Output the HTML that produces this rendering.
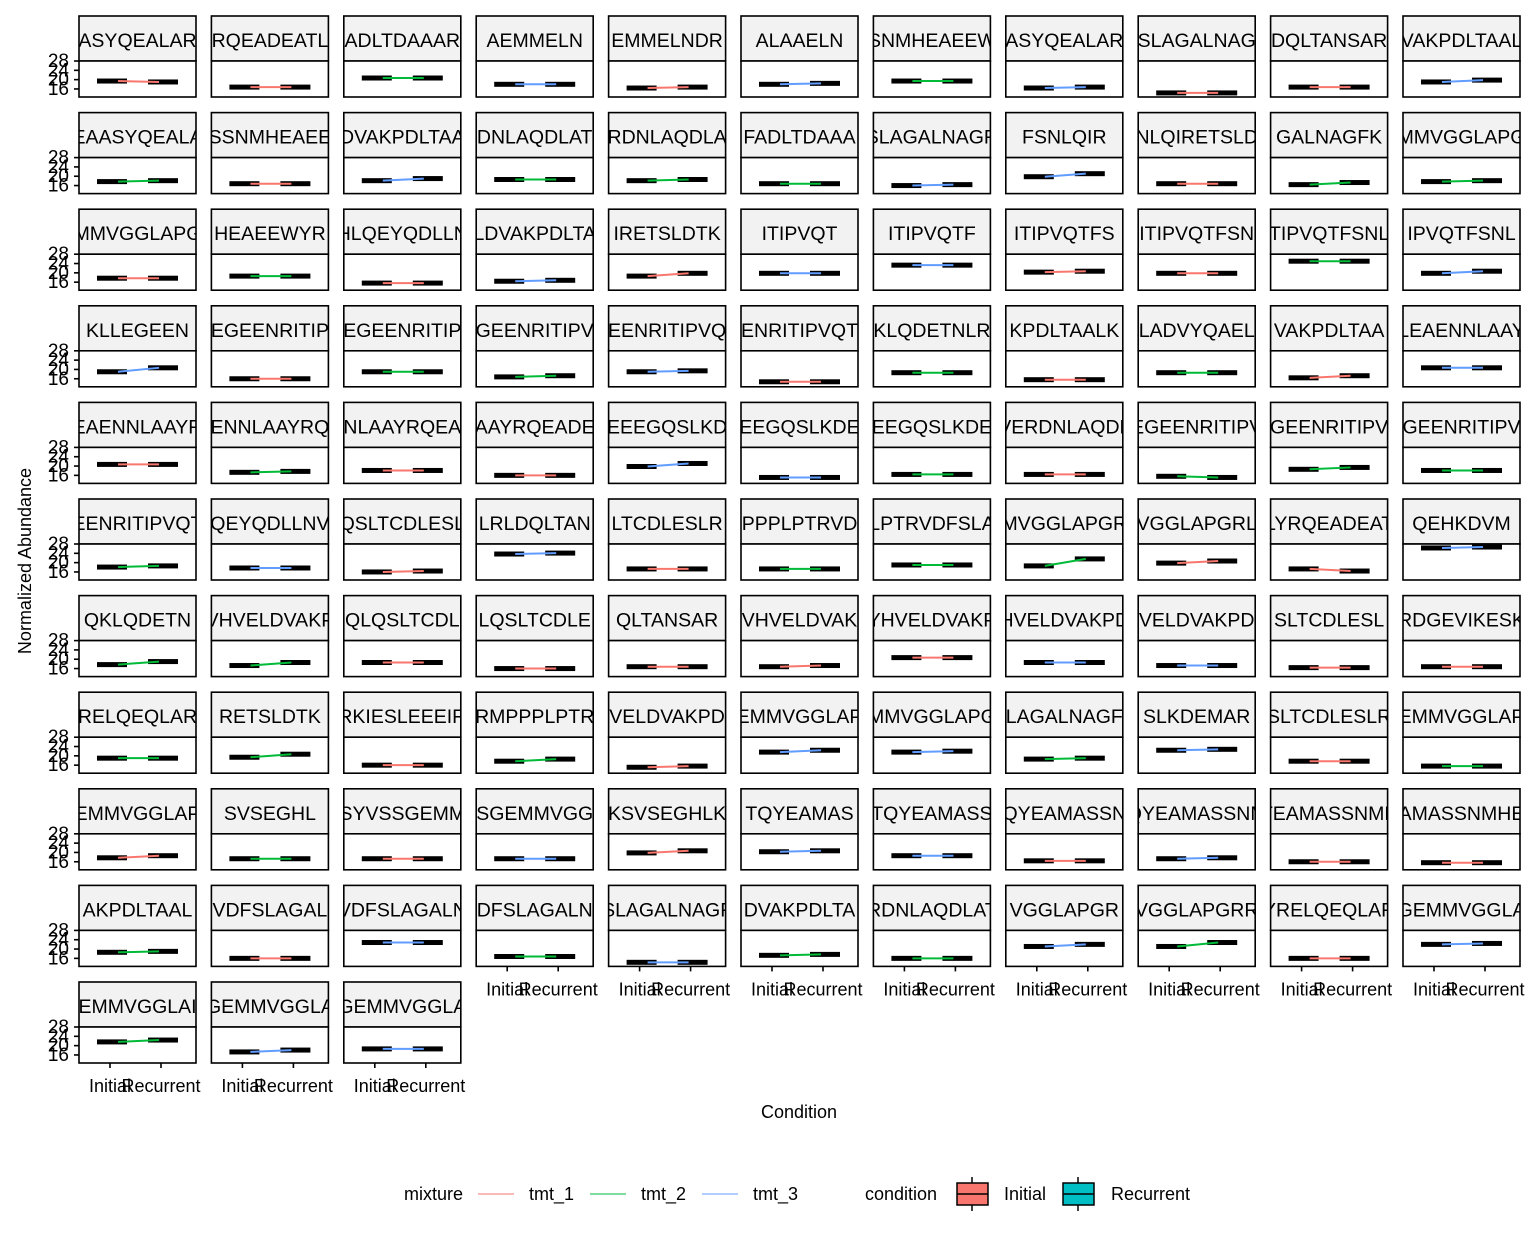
<!DOCTYPE html>
<html><head><meta charset="utf-8"><style>
body{margin:0;background:#fff;}
svg{display:block;font-family:"Liberation Sans",Arial,sans-serif;}
</style></head><body>
<svg id="chart" width="1536" height="1248" viewBox="0 0 1536 1248" xmlns="http://www.w3.org/2000/svg">
<g id="panels"></g>
<text x="31" y="561" font-size="18" text-anchor="middle" transform="rotate(-90 31 561)">Normalized Abundance</text>
<text x="799" y="1118" font-size="18" text-anchor="middle">Condition</text>
<g font-size="18">
<text x="404" y="1200">mixture</text>
<line x1="478" y1="1194" x2="514" y2="1194" stroke="#F8766D" stroke-width="1"/>
<text x="529" y="1200">tmt_1</text>
<line x1="590" y1="1194" x2="626" y2="1194" stroke="#00BA38" stroke-width="1"/>
<text x="641" y="1200">tmt_2</text>
<line x1="702" y1="1194" x2="738" y2="1194" stroke="#619CFF" stroke-width="1"/>
<text x="753" y="1200">tmt_3</text>
<text x="865" y="1200">condition</text>
<line x1="972" y1="1177" x2="972" y2="1211" stroke="#000" stroke-width="1.5"/>
<rect x="957" y="1183" width="31" height="22" fill="#F8766D" stroke="#000" stroke-width="1.5"/>
<line x1="957" y1="1194" x2="988" y2="1194" stroke="#000" stroke-width="1.5"/>
<text x="1004" y="1200">Initial</text>
<line x1="1078" y1="1177" x2="1078" y2="1211" stroke="#000" stroke-width="1.5"/>
<rect x="1063" y="1183" width="31" height="22" fill="#00BFC4" stroke="#000" stroke-width="1.5"/>
<line x1="1063" y1="1194" x2="1094" y2="1194" stroke="#000" stroke-width="1.5"/>
<text x="1111" y="1200">Recurrent</text>
</g>
</svg>
<script>
const peptides = ["ASYQEALAR","RQEADEATL","ADLTDAAAR","AEMMELN","EMMELNDR","ALAAELN","SNMHEAEEW","ASYQEALAR","SLAGALNAG","DQLTANSAR","VAKPDLTAAL",
"EAASYQEALA","SSNMHEAEE","DVAKPDLTAA","DNLAQDLAT","RDNLAQDLA","FADLTDAAA","SLAGALNAGR","FSNLQIR","NLQIRETSLD","GALNAGFK","MMVGGLAPG",
"MMVGGLAPG","HEAEEWYR","HLQEYQDLLN","LDVAKPDLTA","IRETSLDTK","ITIPVQT","ITIPVQTF","ITIPVQTFS","ITIPVQTFSN","TIPVQTFSNL","IPVQTFSNL",
"KLLEGEEN","EGEENRITIP","EGEENRITIP","GEENRITIPV","EENRITIPVQ","ENRITIPVQT","KLQDETNLR","KPDLTAALK","LADVYQAEL","VAKPDLTAA","LEAENNLAAY",
"EAENNLAAYR","ENNLAAYRQ","NLAAYRQEA","AAYRQEADE","EEEGQSLKD","EEGQSLKDE","EEGQSLKDE","VERDNLAQDL","EGEENRITIPV","GEENRITIPV","GEENRITIPV",
"EENRITIPVQT","QEYQDLLNV","QSLTCDLESL","LRLDQLTAN","LTCDLESLR","PPPLPTRVD","LPTRVDFSLA","MVGGLAPGR","VGGLAPGRL","LYRQEADEAT","QEHKDVM",
"QKLQDETN","VHVELDVAKP","QLQSLTCDL","LQSLTCDLE","QLTANSAR","VHVELDVAK","YHVELDVAKP","HVELDVAKPD","VELDVAKPD","SLTCDLESL","RDGEVIKESK",
"RELQEQLAR","RETSLDTK","RKIESLEEEIR","RMPPPLPTR","VELDVAKPD","EMMVGGLAP","MMVGGLAPG","LAGALNAGF","SLKDEMAR","SLTCDLESLR","EMMVGGLAP",
"EMMVGGLAP","SVSEGHL","SYVSSGEMM","SGEMMVGG","KSVSEGHLK","TQYEAMAS","TQYEAMASS","QYEAMASSN","QYEAMASSNM","TEAMASSNME","AMASSNMHE",
"AKPDLTAAL","VDFSLAGAL","VDFSLAGALN","DFSLAGALN","SLAGALNAGF","DVAKPDLTA","RDNLAQDLAT","VGGLAPGR","VGGLAPGRR","YRELQEQLAR","GEMMVGGLA",
"EMMVGGLAI","GEMMVGGLA","GEMMVGGLA"];
const initialValues = [19.4,16.8,20.7,18,16.4,18,19.4,16.4,14.3,16.8,19,
17.7,16.8,18.1,18.6,18.1,16.8,16,19.8,16.8,16.4,17.7,
17.7,18.6,15.6,16.4,18.6,19.8,23.3,20.3,19.8,25,19.8,
19,16,19,16.8,19,14.7,18.6,15.6,18.6,16.4,20.7,
20.7,17.3,18.1,16,19.8,15.1,16.4,16.4,15.6,18.6,18.1,
18.1,17.7,16,23.7,17.3,17.3,19,18.6,19.8,17.3,26.3,
17.7,17.3,18.6,16,16.8,16.8,20.7,18.6,17.3,16.4,16.8,
19,19.4,16,17.7,15.1,21.6,21.6,18.6,22.4,17.7,15.6,
17.7,17.3,17.3,17.3,19.8,20.3,18.6,16.4,17.3,16,15.6,
18.6,16,22.8,16.8,14.3,17.3,16,21.1,21.1,16,22,
21.6,17.3,18.6];
const recurrentValues = [19.0,16.8,20.7,18,16.8,18.4,19.4,16.8,14.3,16.8,19.8,
18.1,16.8,19,18.6,18.6,16.8,16.4,21.1,16.8,17.3,18.1,
17.7,18.6,15.6,16.8,19.8,19.8,23.3,20.7,19.8,25,20.7,
20.7,16,19,17.3,19.4,14.7,18.6,15.6,18.6,17.3,20.7,
20.7,17.7,18.1,16,21.1,15.1,16.4,16.4,15.1,19.4,18.1,
18.6,17.7,16.4,24.1,17.3,17.3,19,21.6,20.7,16.4,26.7,
19,18.6,18.6,16,16.8,17.3,20.7,18.6,17.3,16.4,16.8,
19,20.7,16,18.6,15.6,22.4,22,19,22.8,17.7,15.6,
18.6,17.3,17.3,17.3,20.7,20.7,18.6,16.4,17.7,16,15.6,
19,16,22.8,16.8,14.3,17.7,16,22,22.8,16,22.4,
22.4,18.1,18.6];
const mixtureIndex = [0,0,1,2,0,2,1,2,0,0,2,
1,0,2,1,1,1,2,2,0,1,1,
0,1,0,2,0,2,2,0,0,1,2,
2,0,1,1,2,0,1,0,1,0,2,
0,1,0,0,2,2,1,0,1,1,1,
1,2,0,2,0,1,1,1,0,0,2,
1,1,0,0,0,0,0,2,2,0,0,
1,1,0,1,0,2,2,1,2,0,1,
0,1,0,2,0,2,2,0,2,0,0,
1,0,2,1,2,1,1,2,1,0,2,
1,2,2];
const yTicks = [16,20,24,28];
const xCats = ["Initial","Recurrent"];
const colors = ["#F8766D","#00BA38","#619CFF"];

const NS="http://www.w3.org/2000/svg";
const g=document.getElementById('panels');
const colX0=79, colStep=132.4, rowY0=16, rowStep=96.6, PW=117, SH=45, PH=36;
function yScale(v,top){return top+(28-v)*2.33;}
function xScale(i,left){return left+(i===0?31:82);}
function mk(tag,attrs,parent){const e=document.createElementNS(NS,tag);for(const k in attrs)e.setAttribute(k,attrs[k]);parent.appendChild(e);return e;}
const defs=mk('defs',{},g);
peptides.forEach((name,i)=>{
  const r=Math.floor(i/11), c=i%11;
  const left=colX0+c*colStep, stripTop=rowY0+r*rowStep, top=stripTop+SH;
  const pg=mk('g',{},g);
  
  
  const cp=mk('clipPath',{id:'cp'+i},defs);
  mk('rect',{x:left,y:stripTop,width:PW,height:SH},cp);
  const strip=mk('rect',{x:left,y:stripTop,width:PW,height:SH,fill:'#f2f2f2',stroke:'#000','stroke-width':1.6},pg);
  
  
  const t=mk('text',{x:left+PW/2,y:stripTop+31,'font-size':19.5,'text-anchor':'middle','clip-path':'url(#cp'+i+')'},pg);
  t.textContent=name;
  
  
  mk('rect',{x:left,y:top,width:PW,height:PH,fill:'#fff',stroke:'#000','stroke-width':1.6},pg);
  const vi=initialValues[i], vr=recurrentValues[i];
  [vi,vr].forEach((v,k)=>{
    const cx=xScale(k,left), cy=yScale(v,top);
    const b=mk('rect',{x:cx-13,y:cy-2.5,width:30,height:5,fill:'#000'},pg);
    
    
  });
  const col=colors[mixtureIndex[i]];
  const ln=mk('line',{x1:xScale(0,left)+8,y1:yScale(vi,top),x2:xScale(1,left)-2,y2:yScale(vr,top),stroke:col,'stroke-width':2},pg);
  
  
  if(c===0){
    yTicks.forEach(tv=>{
      const yy=yScale(tv,top);
      mk('line',{x1:left-5,y1:yy,x2:left,y2:yy,stroke:'#000','stroke-width':1.6},pg);
      const tl=mk('text',{x:left-10,y:yy+6,'font-size':19,'text-anchor':'end'},pg);
      tl.textContent=tv;
      
      
    });
  }
  const isBottom = (r===10) || (r===9 && c>=3);
  if(isBottom){
    xCats.forEach((cat,k)=>{
      const xx=xScale(k,left);
      mk('line',{x1:xx,y1:top+PH,x2:xx,y2:top+PH+5,stroke:'#000','stroke-width':1.6},pg);
      const xl=mk('text',{x:xx,y:top+PH+29,'font-size':18,'text-anchor':'middle'},pg);
      xl.textContent=cat;
      
      
    });
  }
});
</script>
</body></html>
